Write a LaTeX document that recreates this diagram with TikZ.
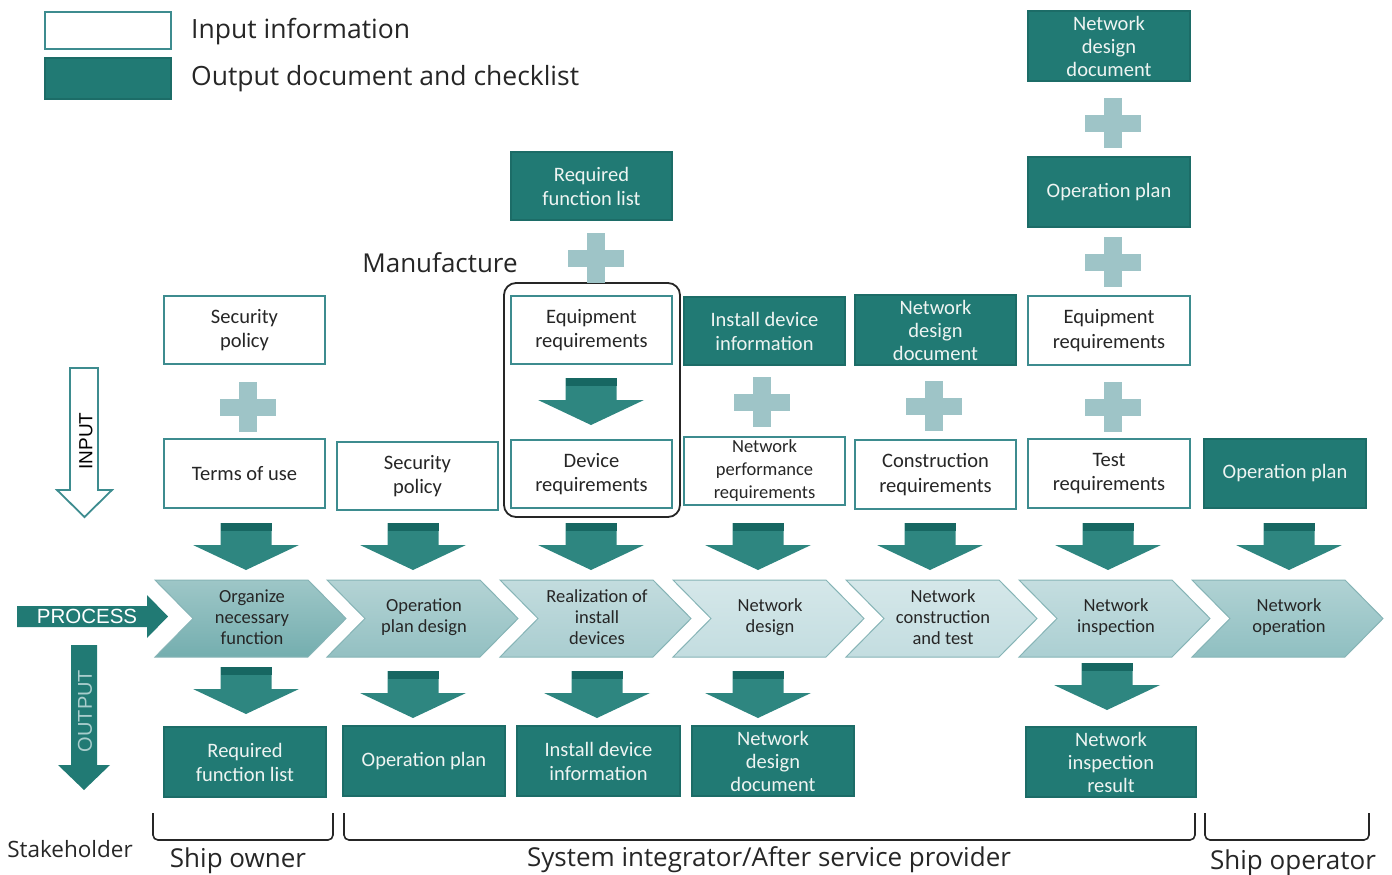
\documentclass[tikz,border=0pt]{standalone}
\usepackage{fontspec}
\setmainfont{Carlito}
\newfontfamily\labelfont{Open Sans}
\newfontfamily\arrowfont{Liberation Sans}
\usetikzlibrary{calc}

\definecolor{docteal}{HTML}{217A74}
\definecolor{tealedge}{HTML}{1C6C67}
\definecolor{inborder}{HTML}{3D8C8F}
\definecolor{arrbody}{HTML}{2E8680}
\definecolor{arrband}{HTML}{176762}
\definecolor{plusc}{HTML}{9EC4C7}
\definecolor{chevedge}{HTML}{86B4B6}
\definecolor{txtdark}{HTML}{262626}
\definecolor{txtlight}{HTML}{EEF4F2}
\definecolor{outputtxt}{HTML}{A8CDCC}
\definecolor{chevA}{HTML}{74AEAF}
\definecolor{chevB}{HTML}{93C0C2}
\definecolor{chevC}{HTML}{A9CDD0}
\definecolor{chevD}{HTML}{C3DDE0}
\definecolor{chevE}{HTML}{C3DDE0}
\definecolor{chevF}{HTML}{ABCFD2}
\definecolor{chevG}{HTML}{8FBFC1}

\tikzset{
  pics/darr/.style={code={
    \fill[arrbody] (-25.5,0) -- (25.5,0) -- (25.5,22) -- (53,22) -- (0,47)
                   -- (-53,22) -- (-25.5,22) -- cycle;
    \fill[arrband] (-25.5,0) rectangle (25.5,8);
  }},
  pics/plussign/.style={code={
    \fill[plusc] (-9,-25) rectangle (9,25);
    \fill[plusc] (-28,-8.5) rectangle (28,8.5);
  }}
}

\begin{document}
\begin{tikzpicture}[x=1pt,y=-1pt,
  inbox/.style={draw=inborder, line width=2pt, fill=white, minimum width=161pt,
    minimum height=68pt, align=center, text=txtdark, inner sep=0pt,
    font=\fontsize{20.5}{24.5}\selectfont},
  outbox/.style={draw=tealedge, line width=1.5pt, fill=docteal, minimum width=161pt,
    minimum height=69pt, align=center, text=txtlight, inner sep=0pt,
    font=\fontsize{20.5}{24}\selectfont},
  chevtext/.style={align=center, text=txtdark, inner sep=0pt,
    font=\fontsize{18.5}{21}\selectfont},
  lbl/.style={text=txtdark, inner sep=0pt, font=\labelfont\fontsize{26}{30}\selectfont},
  brk/.style={draw=txtdark, line width=1.6pt, rounded corners=5pt}
]
\useasboundingbox (0,0) rectangle (1392,875);

% ---------- legend ----------
\node[draw=inborder, line width=2pt, fill=white, minimum width=126pt, minimum height=37pt, inner sep=0pt]
  (legin) at (108,30.5) {};
\node[draw=tealedge, line width=1.5pt, fill=docteal, minimum width=126pt, minimum height=41pt, inner sep=0pt]
  (legout) at (108,78.5) {};
\node[lbl, anchor=west, font=\labelfont\fontsize{26.5}{30}\selectfont] (legintxt) at (191,32) {Input information};
\node[lbl, anchor=west, font=\labelfont\fontsize{26.5}{30}\selectfont] (legouttxt) at (191,79) {Output document and checklist};

% ---------- side arrows ----------
\path[draw=inborder, line width=1.8pt, fill=white]
  (70,368) -- (98,368) -- (98,490) -- (112,490) -- (84.5,517) -- (57,490) -- (70,490) -- cycle;
\node[rotate=90, text=black, inner sep=0pt, font=\arrowfont\fontsize{19}{19}\selectfont]
  (inputlbl) at (86,441) {INPUT};

\fill[docteal] (17,606) -- (147,606) -- (147,595) -- (168,616.5) -- (147,638) -- (147,627)
  -- (17,627) -- cycle;
\node[text=white, inner sep=0pt, font=\arrowfont\fontsize{20.5}{20.5}\selectfont]
  (processlbl) at (87,616.5) {PROCESS};

\fill[docteal] (71,645) -- (97,645) -- (97,765) -- (110,765) -- (84,790) -- (58,765) -- (71,765) -- cycle;
\node[rotate=90, text=outputtxt, inner sep=0pt, font=\arrowfont\fontsize{20}{20}\selectfont]
  (outputlbl) at (85,711) {OUTPUT};

% ---------- input information ----------
\node[inbox] (sec1) at (244.5,330) {Security\\policy};
\node[inbox, minimum height=69pt] (terms) at (244.5,473.5) {Terms of use};
\node[inbox] (sec2) at (417.5,476) {Security\\policy};

\node[outbox, minimum height=68pt] (reqfl) at (591.5,186) {Required\\function list};
\node[inbox] (eqreq1) at (591.5,330) {Equipment\\requirements};
\node[inbox] (devreq) at (591.5,474) {Device\\requirements};

\node[outbox, minimum height=68pt] (instinfo) at (764.5,331) {Install device\\information};
\node[inbox, font=\fontsize{18.5}{23}\selectfont] (netperf) at (764.5,471)
  {Network\\performance\\requirements};

\node[outbox, minimum height=70pt, font=\fontsize{20.5}{23}\selectfont] (nddoc1) at (935.5,330)
  {Network\\design\\document};
\node[inbox, minimum height=69pt] (constr) at (935.5,474.5) {Construction\\requirements};

\node[outbox, minimum width=162pt, minimum height=70pt, font=\fontsize{20.5}{23}\selectfont]
  (nddoc2) at (1109,46) {Network\\design\\document};
\node[outbox, minimum width=162pt, minimum height=70pt] (opplan1) at (1109,192) {Operation plan};
\node[inbox, minimum width=162pt, minimum height=69pt] (eqreq2) at (1109,330.5) {Equipment\\requirements};
\node[inbox, minimum width=162pt, minimum height=69pt] (testreq) at (1109,473.5) {Test\\requirements};

\node[outbox, minimum width=162pt] (opplan2) at (1285,473.5) {Operation plan};

% manufacturer frame
\draw[txtdark, line width=1.8pt, rounded corners=12pt] (504,283) rectangle (680,517);
\node[lbl] (manuf) at (440,263) {Manufacture};

% ---------- plus signs ----------
\pic at (248,407) {plussign};
\pic at (596,258) {plussign};
\pic at (762,402) {plussign};
\pic at (934,406) {plussign};
\pic at (1113,123) {plussign};
\pic at (1113,262) {plussign};
\pic at (1113,407) {plussign};

% ---------- block arrows ----------
\pic at (591,378) {darr};
\foreach \x in {246,413,591,758,930,1108,1289} \pic at (\x,523) {darr};
\pic at (246,667) {darr};
\pic at (413,671) {darr};
\pic at (597,671) {darr};
\pic at (758,671) {darr};
\pic at (1107,663) {darr};

% ---------- process chevrons ----------
\foreach \L/\c/\n/\t in {
  155/chevA/pA/{Organize\\necessary\\function},
  327/chevB/pB/{Operation\\plan design},
  500/chevC/pC/{Realization of\\install\\devices},
  673/chevD/pD/{Network\\design},
  846/chevE/pE/{Network\\construction\\and test},
  1019/chevF/pF/{Network\\inspection},
  1192/chevG/pG/{Network\\operation}} {
  \shadedraw[top color=\c!70!white, bottom color=\c, draw=chevedge, line width=1pt]
    (\L,580) -- ($(\L,580)+(153,0)$) -- ($(\L,618.5)+(191,0)$) -- ($(\L,657)+(153,0)$)
    -- (\L,657) -- ($(\L,618.5)+(38,0)$) -- cycle;
  \node[chevtext] (\n) at ($(\L,617)+(97,0)$) {\t};
}

% ---------- output documents ----------
\node[outbox, minimum width=162pt, minimum height=70pt] (out1) at (245,762) {Required\\function list};
\node[outbox, minimum width=162pt, minimum height=70pt] (out2) at (424,761) {Operation plan};
\node[outbox, minimum width=163pt, minimum height=70pt] (out3) at (598.5,761) {Install device\\information};
\node[outbox, minimum width=162pt, minimum height=70pt, font=\fontsize{20.5}{23}\selectfont]
  (out4) at (773,761) {Network\\design\\document};
\node[outbox, minimum width=170pt, minimum height=70pt, font=\fontsize{20.5}{23}\selectfont]
  (out6) at (1111,762) {Network\\inspection\\result};

% ---------- stakeholders ----------
\node[lbl, font=\labelfont\fontsize{22.5}{26}\selectfont] (stake) at (70,849) {Stakeholder};
\draw[brk] (153,813) -- (153,840) -- (333,840) -- (333,813);
\draw[brk] (344,813) -- (344,840) -- (1195,840) -- (1195,813);
\draw[brk] (1205,813) -- (1205,840) -- (1369,840) -- (1369,813);
\node[lbl] (owner) at (238,861) {Ship owner};
\node[lbl] (integ) at (769,860) {System integrator/After service provider};
\node[lbl] (oper) at (1293,863) {Ship operator};
\end{tikzpicture}
\end{document}
